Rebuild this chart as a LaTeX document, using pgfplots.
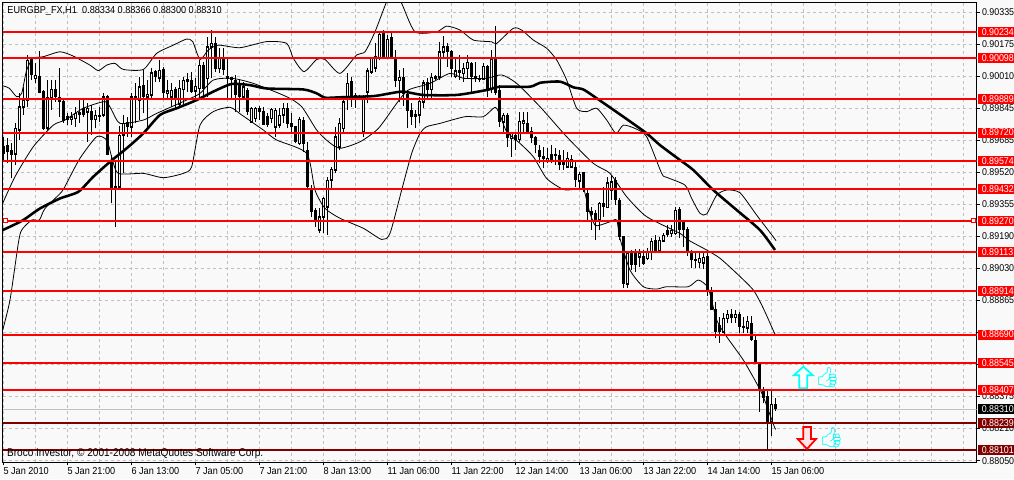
\documentclass[border=0pt]{standalone}
\usepackage{pgfplots}
\usepackage{pgfplotstable}
\usepackage{fontspec}
\pgfplotsset{compat=1.18}
\setmainfont{Liberation Sans}[FakeStretch=0.9]
\newfontfamily\emoji{Noto Emoji}
\definecolor{bgc}{HTML}{F9F9F9}
\definecolor{gridc}{HTML}{C0C0C0}
\definecolor{darkr}{HTML}{800000}
\definecolor{aqua}{HTML}{00FFFF}
\pgfplotstableread{
x o h l c
0 0.89648 0.89699 0.89572 0.89614
1 0.89653 0.89691 0.89563 0.89623
2 0.89628 0.89665 0.89487 0.89606
3 0.89611 0.89767 0.89554 0.89742
4 0.89733 0.89920 0.89682 0.89852
5 0.89852 0.89954 0.89810 0.89886
6 0.89886 0.90116 0.89852 0.90090
7 0.90093 0.90099 0.89988 0.90014
8 0.89997 0.90073 0.89971 0.90014
9 0.90005 0.90136 0.89920 0.89925
10 0.89929 0.89937 0.89733 0.89742
11 0.89742 0.89988 0.89733 0.89900
12 0.89900 0.89988 0.89835 0.89940
13 0.89940 0.89988 0.89878 0.89903
14 0.89900 0.90048 0.89801 0.89878
15 0.89878 0.89886 0.89770 0.89781
16 0.89801 0.89818 0.89759 0.89784
17 0.89791 0.89827 0.89759 0.89801
18 0.89793 0.89852 0.89750 0.89818
19 0.89815 0.89895 0.89770 0.89821
20 0.89844 0.89895 0.89801 0.89810
21 0.89827 0.89869 0.89674 0.89844
22 0.89827 0.89861 0.89708 0.89784
23 0.89787 0.89835 0.89742 0.89810
24 0.89804 0.89852 0.89776 0.89810
25 0.89810 0.89920 0.89801 0.89903
26 0.89903 0.89912 0.89606 0.89606
27 0.89580 0.89606 0.89359 0.89436
28 0.89447 0.89580 0.89237 0.89441
29 0.89444 0.89753 0.89427 0.89708
30 0.89708 0.89810 0.89512 0.89767
31 0.89770 0.89801 0.89699 0.89753
32 0.89750 0.89920 0.89699 0.89903
33 0.89903 0.89971 0.89767 0.89895
34 0.89886 0.90005 0.89784 0.89954
35 0.89963 0.90039 0.89818 0.89903
36 0.89903 0.89988 0.89750 0.89917
37 0.89912 0.90048 0.89895 0.90025
38 0.90031 0.90039 0.89980 0.90005
39 0.89997 0.90090 0.89980 0.90039
40 0.90042 0.90056 0.89886 0.89923
41 0.89920 0.89988 0.89886 0.89934
42 0.89903 0.89971 0.89852 0.89937
43 0.89942 0.89954 0.89835 0.89895
44 0.89866 0.89988 0.89844 0.89945
45 0.89940 0.90005 0.89861 0.89988
46 0.89985 0.90022 0.89929 0.89991
47 0.89988 0.90031 0.89920 0.89929
48 0.89934 0.89997 0.89895 0.89957
49 0.89946 0.90090 0.89903 0.90065
50 0.90065 0.90082 0.89895 0.89946
51 0.89997 0.90209 0.89903 0.90158
52 0.90158 0.90243 0.89997 0.90175
53 0.90175 0.90209 0.90031 0.90048
54 0.90048 0.90150 0.90022 0.90099
55 0.90099 0.90150 0.90014 0.90039
56 0.89997 0.90107 0.89886 0.90005
57 0.90002 0.90005 0.89895 0.89988
58 0.89988 0.90014 0.89827 0.89912
59 0.89971 0.89988 0.89827 0.89903
60 0.89903 0.89980 0.89886 0.89954
61 0.89937 0.89946 0.89810 0.89827
62 0.89776 0.89852 0.89776 0.89844
63 0.89793 0.89852 0.89776 0.89844
64 0.89844 0.89855 0.89784 0.89827
65 0.89827 0.89852 0.89759 0.89759
66 0.89801 0.89818 0.89750 0.89759
67 0.89793 0.89844 0.89767 0.89838
68 0.89750 0.89844 0.89699 0.89835
69 0.89759 0.89844 0.89742 0.89810
70 0.89810 0.89869 0.89767 0.89844
71 0.89844 0.89869 0.89742 0.89767
72 0.89767 0.89818 0.89716 0.89750
73 0.89750 0.89750 0.89665 0.89674
74 0.89665 0.89801 0.89657 0.89787
75 0.89784 0.89801 0.89623 0.89665
76 0.89631 0.89674 0.89436 0.89444
77 0.89427 0.89453 0.89291 0.89317
78 0.89322 0.89334 0.89240 0.89274
79 0.89223 0.89334 0.89206 0.89291
80 0.89291 0.89393 0.89206 0.89385
81 0.89342 0.89495 0.89198 0.89478
82 0.89478 0.89546 0.89436 0.89532
83 0.89529 0.89750 0.89512 0.89699
84 0.89648 0.89792 0.89631 0.89767
85 0.89742 0.89886 0.89725 0.89878
86 0.89903 0.90022 0.89835 0.89971
87 0.89980 0.90002 0.89852 0.89903
88 0.89895 0.89920 0.89844 0.89912
89 0.89906 0.89912 0.89886 0.89898
90 0.89725 0.89912 0.89699 0.89903
91 0.89929 0.90048 0.89869 0.90036
92 0.90031 0.90107 0.90019 0.90099
93 0.90048 0.90175 0.90031 0.90110
94 0.90099 0.90240 0.90090 0.90221
95 0.90226 0.90243 0.90093 0.90099
96 0.90099 0.90218 0.90093 0.90195
97 0.90204 0.90226 0.90093 0.90099
98 0.90104 0.90141 0.89954 0.89983
99 0.89988 0.90039 0.89878 0.90002
100 0.90002 0.90048 0.89855 0.89920
101 0.89917 0.89937 0.89742 0.89832
102 0.89832 0.89869 0.89759 0.89804
103 0.89815 0.89835 0.89742 0.89804
104 0.89810 0.89903 0.89767 0.89881
105 0.89878 0.89988 0.89844 0.89974
106 0.89974 0.89997 0.89895 0.89937
107 0.89940 0.90025 0.89895 0.90002
108 0.89997 0.90014 0.89988 0.90005
109 0.90005 0.90183 0.89988 0.90133
110 0.90133 0.90212 0.90107 0.90158
111 0.90161 0.90175 0.90056 0.90133
112 0.90133 0.90141 0.90005 0.90048
113 0.90008 0.90107 0.89997 0.90036
114 0.90036 0.90116 0.89988 0.90025
115 0.90022 0.90073 0.89980 0.90048
116 0.90048 0.90116 0.89997 0.90078
117 0.90073 0.90082 0.89929 0.90008
118 0.90008 0.90082 0.89980 0.89997
119 0.89997 0.90014 0.89980 0.89991
120 0.89991 0.90073 0.89988 0.90059
121 0.90059 0.90065 0.89903 0.89937
122 0.89940 0.90141 0.89920 0.90093
123 0.90093 0.90263 0.89912 0.89923
124 0.89934 0.89963 0.89750 0.89776
125 0.89776 0.89821 0.89725 0.89810
126 0.89810 0.89818 0.89648 0.89696
127 0.89691 0.89725 0.89597 0.89716
128 0.89708 0.89716 0.89631 0.89685
129 0.89685 0.89827 0.89674 0.89776
130 0.89770 0.89827 0.89716 0.89781
131 0.89767 0.89827 0.89716 0.89725
132 0.89725 0.89750 0.89665 0.89696
133 0.89696 0.89702 0.89614 0.89657
134 0.89631 0.89657 0.89563 0.89600
135 0.89600 0.89648 0.89538 0.89589
136 0.89580 0.89640 0.89563 0.89589
137 0.89611 0.89657 0.89563 0.89580
138 0.89606 0.89640 0.89554 0.89611
139 0.89606 0.89631 0.89529 0.89555
140 0.89580 0.89631 0.89529 0.89555
141 0.89546 0.89623 0.89538 0.89589
142 0.89546 0.89606 0.89538 0.89583
143 0.89543 0.89572 0.89444 0.89478
144 0.89475 0.89521 0.89436 0.89509
145 0.89515 0.89521 0.89419 0.89427
146 0.89410 0.89436 0.89274 0.89317
147 0.89317 0.89342 0.89223 0.89300
148 0.89308 0.89325 0.89172 0.89274
149 0.89274 0.89368 0.89223 0.89359
150 0.89359 0.89444 0.89291 0.89342
151 0.89339 0.89495 0.89333 0.89464
152 0.89427 0.89504 0.89376 0.89470
153 0.89478 0.89495 0.89350 0.89376
154 0.89376 0.89384 0.89172 0.89189
155 0.89189 0.89189 0.88926 0.88948
156 0.88948 0.89113 0.88926 0.89104
157 0.89104 0.89121 0.89019 0.89045
158 0.89104 0.89124 0.89010 0.89045
159 0.89087 0.89124 0.89036 0.89104
160 0.89090 0.89121 0.89045 0.89053
161 0.89079 0.89130 0.89070 0.89113
162 0.89113 0.89181 0.89070 0.89167
163 0.89172 0.89198 0.89104 0.89116
164 0.89118 0.89189 0.89113 0.89172
165 0.89167 0.89206 0.89164 0.89198
166 0.89220 0.89249 0.89189 0.89198
167 0.89206 0.89249 0.89189 0.89223
168 0.89206 0.89342 0.89198 0.89325
169 0.89328 0.89342 0.89181 0.89226
170 0.89266 0.89274 0.89138 0.89226
171 0.89226 0.89240 0.89090 0.89113
172 0.89107 0.89121 0.89028 0.89070
173 0.89073 0.89113 0.89028 0.89067
174 0.89058 0.89113 0.89028 0.89079
175 0.89056 0.89113 0.89022 0.89084
176 0.89090 0.89104 0.88886 0.88920
177 0.88914 0.88931 0.88815 0.88818
178 0.88818 0.88858 0.88671 0.88705
179 0.88739 0.88781 0.88648 0.88705
180 0.88705 0.88798 0.88696 0.88773
181 0.88773 0.88815 0.88747 0.88795
182 0.88795 0.88818 0.88747 0.88778
183 0.88778 0.88815 0.88747 0.88795
184 0.88795 0.88807 0.88696 0.88730
185 0.88730 0.88781 0.88696 0.88725
186 0.88722 0.88786 0.88696 0.88756
187 0.88747 0.88786 0.88657 0.88662
188 0.88662 0.88688 0.88543 0.88546
189 0.88543 0.88552 0.88297 0.88411
190 0.88404 0.88424 0.88339 0.88368
191 0.88373 0.88404 0.88104 0.88246
192 0.88246 0.88404 0.88174 0.88336
193 0.88334 0.88366 0.88300 0.88310
}\candles
\newcommand{\pricetag}[2]{\node[fill=#2,text=white,anchor=west,inner xsep=2.6pt,inner ysep=0pt,minimum height=7.5pt,xshift=1pt,font=\fontsize{7.4}{9}\selectfont] at (axis cs:243.2575,#1) {#1};}
\begin{document}
\begin{tikzpicture}
\path[use as bounding box] (0,0) rectangle (760.5pt,359.25pt);
\fill[bgc] (0,0) rectangle (760.5pt,359.25pt);
\begin{axis}[
  at={(2.025pt,12.75pt)},anchor=south west,
  width=730.5pt,height=344.775pt,scale only axis,
  xmin=-0.2425,xmax=243.2575,ymin=0.8804,ymax=0.903845,
  clip mode=individual,
  axis line style={line width=0.75pt,black},
  axis background/.style={fill=bgc},
  tick align=outside,xtick pos=bottom,ytick pos=right,
  major tick length=2.5pt,minor tick length=0pt,
  tick style={line width=0.75pt,black},
  xtick={0,16,32,48,64,80,96,112,128,144,160,176,192},
  xticklabels={5 Jan 2010,5 Jan 21:00,6 Jan 13:00,7 Jan 05:00,7 Jan 21:00,8 Jan 13:00,11 Jan 06:00,11 Jan 22:00,12 Jan 14:00,13 Jan 06:00,13 Jan 22:00,14 Jan 14:00,15 Jan 06:00},
  minor xtick={8,24,40,56,72,88,104,120,136,152,168,184,200,208,216,224,232,240},
  ytick={0.90333,0.90169,0.90006,0.89843,0.89680,0.89517,0.89353,0.89190,0.89027,0.88864,0.88700,0.88537,0.88374,0.88211,0.88047},
  yticklabels={0.90335,0.90175,0.90010,0.89845,0.89685,0.89520,0.89355,0.89190,0.89030,0.88865,{},{},0.88375,0.88210,0.88050},
  xmajorgrids=true,xminorgrids=true,ymajorgrids=true,
  grid style={gridc,line width=0.75pt,dash pattern=on 2.25pt off 2.25pt},
  minor grid style={gridc,line width=0.75pt,dash pattern=on 2.25pt off 2.25pt},
  xticklabel style={font=\fontsize{7.6}{9}\selectfont,inner sep=0pt,anchor=north west,yshift=-1.5pt,xshift=-0.3pt},
  yticklabel style={font=\fontsize{7.4}{9}\selectfont,inner sep=0pt,anchor=west,xshift=1.3pt},
]
% bid line
\addplot[gridc,line width=0.75pt,forget plot] coordinates {(-0.2425,0.88310)(243.2575,0.88310)};
% wicks
\addplot[draw=none,mark=none,forget plot,error bars/.cd,y dir=plus,y explicit,error mark=none,error bar style={line width=0.75pt,black}]
  table[x=x,y=l,y error plus expr={\thisrow{h}-\thisrow{l}}] {\candles};
% bodies
\addplot[draw=none,mark=none,forget plot,error bars/.cd,y dir=both,y explicit,error mark=none,error bar style={line width=2.4pt,black}]
  table[x=x,y=o,y error plus expr={max(\thisrow{c}-\thisrow{o},0)+0.00002},y error minus expr={max(\thisrow{o}-\thisrow{c},0)+0.00002}] {\candles};
% hollow centres of the rising candles
\addplot[draw=none,mark=none,forget plot,error bars/.cd,y dir=both,y explicit,error mark=none,error bar style={line width=0.75pt,bgc}]
  table[x=x,y expr={(\thisrow{o}+\thisrow{c})/2},y error plus expr={max((\thisrow{c}-\thisrow{o})/2-0.00004,0)},y error minus expr={max((\thisrow{c}-\thisrow{o})/2-0.00004,0)}] {\candles};
% Bollinger upper
\addplot[black,line width=0.6pt,forget plot,smooth,tension=0.4] coordinates {
(-0.25,0.89959)(1.41,0.89946)(3.25,0.89903)(4.5,0.89920)(5.75,0.90039)(7.41,0.90099)(9.91,0.90107)(14.08,0.90132)(17.41,0.90110)(21.58,0.90064)(23.66,0.90036)(25.75,0.90064)(27.83,0.90073)(29.91,0.90042)(34.91,0.90042)(38.25,0.90124)(42.41,0.90166)(45.75,0.90197)(47.25,0.90184)(49.08,0.90093)(51.16,0.90141)(53.66,0.90166)(59.08,0.90153)(65.75,0.90184)(70.75,0.90175)(72.41,0.90099)(75.08,0.90031)(78.25,0.90093)(80.33,0.90093)(84.08,0.90022)
(88.25,0.90116)(90.33,0.90132)(92.83,0.90234)(95.75,0.90388)(97.41,0.90447)(99.5,0.90379)(102.83,0.90234)(108.25,0.90234)(110.75,0.90263)(114.08,0.90243)(117.41,0.90192)(121.99,0.90183)(123.25,0.90175)(127.41,0.90252)(129.5,0.90243)(132.41,0.90192)(135.75,0.90150)(138.25,0.90090)(140.75,0.89988)(143.25,0.89844)(145.75,0.89827)(148.25,0.89844)(150.75,0.89784)(153.08,0.89716)(154.91,0.89758)(157.83,0.89741)(160.75,0.89699)(164.5,0.89512)
(165.75,0.89492)(170.33,0.89452)(172,0.89384)(174.08,0.89308)(175.75,0.89305)(178.25,0.89401)(180.75,0.89427)(184.08,0.89413)(188.25,0.89299)(192.66,0.89181)(193,0.89170)};
% Bollinger middle
\addplot[black,line width=0.6pt,forget plot,smooth,tension=0.4] coordinates {
(-0.25,0.89359)(2.83,0.89495)(7.41,0.89648)(12.41,0.89758)(15.33,0.89784)(19.91,0.89844)(25.33,0.89878)(27,0.89835)(29.08,0.89767)(34.91,0.89784)(38.25,0.89818)(45.75,0.89886)(49.08,0.89920)(52.41,0.89988)(57,0.89997)(62.41,0.89971)(70.75,0.89903)(74.5,0.89852)(78.25,0.89733)(81.16,0.89674)(84.08,0.89640)
(89.08,0.89673)(93.66,0.89741)(98.25,0.89869)(101.16,0.89937)(106.58,0.89971)(111.58,0.90022)(114.91,0.89997)(120.75,0.89997)(124.5,0.90014)(128.25,0.89971)(134.08,0.89852)(140.75,0.89699)(147.41,0.89563)(151.58,0.89512)(155.75,0.89393)(160.75,0.89291)(169.08,0.89206)
(171.16,0.89172)(175.75,0.89121)(179.08,0.89079)(183.25,0.89002)(187.41,0.88917)(189.91,0.88824)(192.66,0.88699)(193,0.88690)};
% Bollinger lower
\addplot[black,line width=0.6pt,forget plot,smooth,tension=0.4] coordinates {
(-0.25,0.88713)(1.58,0.88866)(3.66,0.89155)(4.5,0.89223)(7,0.89274)(8.91,0.89274)(10.33,0.89333)(14.5,0.89418)(16.16,0.89478)(19.08,0.89589)(23.25,0.89699)(25.75,0.89682)(27,0.89597)(28.66,0.89512)(34.91,0.89512)(39.91,0.89490)(44.91,0.89512)(47,0.89546)(49.08,0.89758)(52.41,0.89827)(56.58,0.89849)(59.5,0.89810)(64.91,0.89733)(68.25,0.89682)(75.75,0.89614)(77.83,0.89427)(80.33,0.89334)(84.08,0.89283)
(89.91,0.89232)(94.5,0.89175)(96.58,0.89206)(99.5,0.89427)(102,0.89614)(104.08,0.89716)(105.75,0.89750)(109.08,0.89767)(115.33,0.89801)(119.91,0.89801)(122.83,0.89849)(124.08,0.89810)(125.75,0.89725)(129.08,0.89665)(132.41,0.89597)(135.75,0.89486)(139.91,0.89430)(142.41,0.89430)(144.91,0.89435)
(145.33,0.89410)(146.58,0.89308)(147.83,0.89248)(149.08,0.89248)(151.58,0.89265)(153.25,0.89274)(154.08,0.89180)(156.58,0.89019)(159.91,0.88934)(163.25,0.88922)(165.75,0.88934)(171.16,0.88934)(173.66,0.88968)(176.16,0.88925)(178.25,0.88764)(180.75,0.88679)(184.91,0.88560)(188.25,0.88441)(189.91,0.88373)(192.66,0.88220)(193,0.88210)};
% slow moving average
\addplot[black,line width=1.9pt,forget plot,smooth,tension=0.4] coordinates {
(-0.25,0.89223)(1.58,0.89240)(4.91,0.89274)(9.08,0.89333)(14.08,0.89384)(18.66,0.89418)(22.41,0.89495)(26.58,0.89571)(30.75,0.89640)(34.91,0.89716)(39.08,0.89810)(43.25,0.89844)(48.25,0.89886)(52.41,0.89929)(57,0.89968)(61.58,0.89962)(65.75,0.89945)(74.91,0.89940)(78.25,0.89920)(80.33,0.89898)(84.08,0.89900)
(92.41,0.89906)(96.58,0.89920)(99.91,0.89929)(104.91,0.89912)(113.25,0.89912)(120.75,0.89937)(124.08,0.89954)(131.58,0.89954)(134.08,0.89974)(139.08,0.89980)(142.41,0.89951)(144.91,0.89940)(148.25,0.89895)(154.91,0.89801)(160.75,0.89716)(164.08,0.89656)(169.08,0.89580)
(172.41,0.89529)(177.41,0.89427)(183.25,0.89325)(189.08,0.89223)(192.83,0.89121)};
% horizontal levels
\addplot[red,line width=1.5pt,forget plot] coordinates {(-0.2425,0.90234)(243.2575,0.90234)};
\addplot[red,line width=1.5pt,forget plot] coordinates {(-0.2425,0.90098)(243.2575,0.90098)};
\addplot[red,line width=1.5pt,forget plot] coordinates {(-0.2425,0.89889)(243.2575,0.89889)};
\addplot[red,line width=1.5pt,forget plot] coordinates {(-0.2425,0.89720)(243.2575,0.89720)};
\addplot[red,line width=1.5pt,forget plot] coordinates {(-0.2425,0.89574)(243.2575,0.89574)};
\addplot[red,line width=1.5pt,forget plot] coordinates {(-0.2425,0.89432)(243.2575,0.89432)};
\addplot[red,line width=1.5pt,forget plot] coordinates {(-0.2425,0.89270)(243.2575,0.89270)};
\addplot[red,line width=1.5pt,forget plot] coordinates {(-0.2425,0.89113)(243.2575,0.89113)};
\addplot[red,line width=1.5pt,forget plot] coordinates {(-0.2425,0.88914)(243.2575,0.88914)};
\addplot[red,line width=1.5pt,forget plot] coordinates {(-0.2425,0.88690)(243.2575,0.88690)};
\addplot[red,line width=1.5pt,forget plot] coordinates {(-0.2425,0.88545)(243.2575,0.88545)};
\addplot[red,line width=1.5pt,forget plot] coordinates {(-0.2425,0.88407)(243.2575,0.88407)};
\addplot[darkr,line width=1.5pt,forget plot] coordinates {(-0.2425,0.88239)(243.2575,0.88239)};
\addplot[darkr,line width=1.5pt,forget plot] coordinates {(-0.2425,0.88101)(243.2575,0.88101)};
\pricetag{0.90234}{red}
\pricetag{0.90098}{red}
\pricetag{0.89889}{red}
\pricetag{0.89720}{red}
\pricetag{0.89574}{red}
\pricetag{0.89432}{red}
\pricetag{0.89270}{red}
\pricetag{0.89113}{red}
\pricetag{0.88914}{red}
\pricetag{0.88690}{red}
\pricetag{0.88545}{red}
\pricetag{0.88407}{red}
\pricetag{0.88310}{black}
\pricetag{0.88239}{darkr}
\pricetag{0.88101}{darkr}
\end{axis}
\begin{scope}[x=0.75pt,y=-0.75pt,yshift=359.25pt,font=\fontsize{7.6}{9}\selectfont]
\node[anchor=west,inner sep=0pt] at (7.2,10.6) {EURGBP\_FX,H1\hspace{4pt}0.88334 0.88366 0.88300 0.88310};
\node[anchor=west,inner sep=0pt,font=\fontsize{8.4}{9}\selectfont] at (6.8,454) {Broco Investor, \textcopyright{} 2001-2008 MetaQuotes Software Corp.};
\draw[red,line width=0.75pt,fill=white] (3,218.4) rectangle (7.4,223);
\draw[red,line width=0.75pt,fill=white] (971,218.4) rectangle (975.4,223);
% arrows
\draw[aqua,line width=1.3pt,fill=white,line join=miter] (803.3,366.7)--(812.7,375.2)--(807.3,375.2)--(807.3,388.3)--(799.3,388.3)--(799.3,375.2)--(794,375.2)--cycle;
\draw[red,line width=1.3pt,fill=red!10,line join=miter] (807,449)--(816,439)--(811,439)--(811,427)--(803.3,427)--(803.3,439)--(797.7,439)--cycle;
\node[text=aqua,inner sep=0pt,font=\emoji\fontsize{15}{15}\selectfont] at (827.5,378) {^^^^^^01f44d};
\node[text=aqua,inner sep=0pt,font=\emoji\fontsize{15}{15}\selectfont] at (831.5,438) {^^^^^^01f44d};
\end{scope}
\end{tikzpicture}
\end{document}
